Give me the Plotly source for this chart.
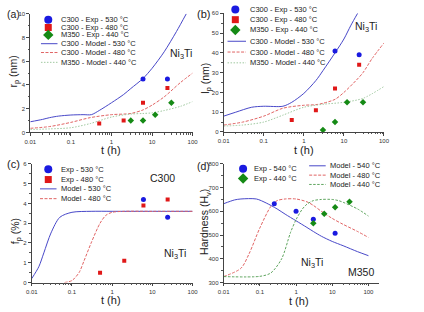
import plotly.graph_objects as go

W, H = 424, 312

# ---------------- data ----------------
# (a) r_p (nm)
a_exp530_t = [6, 24];            a_exp530_v = [4.5, 4.5]
a_exp480_t = [0.5, 2, 6, 24];    a_exp480_v = [0.75, 1.0, 2.5, 3.75]
a_exp440_t = [3, 6, 12, 30];     a_exp440_v = [1.0, 1.0, 1.5, 2.5]
a_mod530_t = [0.01, 0.02, 0.03, 0.05, 0.1, 0.2, 0.32, 0.5, 1, 2, 3, 6, 10, 20, 40, 70]
a_mod530_v = [0.9, 1.1, 1.25, 1.38, 1.47, 1.5, 1.5, 1.85, 2.5, 3.2, 3.7, 4.55, 5.4, 6.8, 8.5, 10.0]
a_mod480_t = [0.01, 0.03, 0.1, 0.3, 1, 3, 6, 10, 20, 50, 100]
a_mod480_v = [0.35, 0.5, 0.85, 1.25, 1.5, 1.6, 1.9, 2.3, 3.0, 4.2, 5.0]
a_mod440_t = [0.01, 0.03, 0.1, 0.3, 1, 3, 6, 10, 20, 50, 100]
a_mod440_v = [0.25, 0.3, 0.4, 0.75, 1.3, 1.55, 1.6, 1.65, 1.85, 2.2, 2.6]

# (b) l_p (nm)
b_exp530_t = [6, 24];            b_exp530_v = [41, 39]
b_exp480_t = [0.5, 2, 6, 24];    b_exp480_v = [6, 11, 22, 34]
b_exp440_t = [3, 6, 12, 30];     b_exp440_v = [1, 5, 15, 15]
b_mod530_t = [0.01, 0.02, 0.05, 0.1, 0.3, 0.5, 1, 2, 3, 6, 10, 15, 22]
b_mod530_v = [8, 10, 12.5, 13, 13, 15, 19.5, 26, 31, 40, 47, 54, 60]
b_mod480_t = [0.01, 0.03, 0.1, 0.3, 1, 2, 3, 6, 10, 20, 30, 50, 100]
b_mod480_v = [3.5, 5, 8, 12, 13.5, 13.8, 14.5, 16.5, 20, 26, 30, 37, 45]
b_mod440_t = [0.01, 0.03, 0.1, 0.3, 1, 3, 10, 30, 100]
b_mod440_v = [3, 3.5, 5, 8.5, 12.5, 14, 15, 17, 23]

# (c) f_p (%)
c_exp530_t = [6, 24];            c_exp530_v = [4.2, 3.3]
c_exp480_t = [0.5, 2, 6, 24];    c_exp480_v = [0.5, 1.1, 3.9, 4.2]
c_mod530_t = [0.01, 0.015, 0.02, 0.03, 0.05, 0.1, 0.3, 1, 10, 100]
c_mod530_v = [0.2, 0.8, 1.5, 2.5, 3.3, 3.55, 3.6, 3.6, 3.6, 3.6]
c_mod480_t = [0.065, 0.1, 0.15, 0.2, 0.3, 0.5, 0.7, 1, 2, 10, 100]
c_mod480_v = [0.0, 0.1, 0.5, 1.1, 2.0, 3.0, 3.4, 3.55, 3.6, 3.6, 3.6]

# (d) Hardness (Hv)
d_exp540_t = [0.25, 1, 3, 12];   d_exp540_v = [632, 600, 567, 508]
d_exp440_t = [3, 6, 12, 30];     d_exp440_v = [550, 590, 617, 640]
d_mod540_t = [0.01, 0.02, 0.03, 0.08, 0.15, 0.3, 0.5, 1, 2, 3, 5, 10, 20, 50, 100]
d_mod540_v = [632, 648, 652, 652, 635, 610, 588, 560, 532, 515, 495, 473, 455, 430, 413]
d_mod480_t = [0.01, 0.03, 0.05, 0.1, 0.2, 0.3, 0.5, 1, 2, 3, 5, 10, 20, 50, 100]
d_mod480_v = [325, 360, 420, 530, 620, 645, 652, 652, 640, 625, 600, 570, 545, 515, 490]
d_mod440_t = [0.01, 0.1, 0.2, 0.4, 0.7, 1, 1.5, 2, 3, 5, 10, 15, 20, 50, 100]
d_mod440_v = [325, 326, 340, 400, 510, 565, 610, 630, 645, 650, 650, 645, 638, 610, 580]

# ---------------- styles ----------------
BLUE_M, RED_M, GREEN_M = "#1a1ae0", "#e01818", "#158a15"
BLUE_L, RED_L, GREEN_L, GREEN_D = "#4848c8", "#e06464", "#a0c8a0", "#5fa55f"
FONT = "Liberation Sans, Arial, sans-serif"

fig = go.Figure()

def px_x(x):
    return x / W

def px_y(y):
    return 1 - y / H

def exp(t, v, color, symbol, size, ax):
    fig.add_trace(go.Scatter(x=t, y=v, mode="markers", xaxis=ax[0], yaxis=ax[1],
                             marker=dict(color=color, symbol=symbol, size=size, line=dict(width=0)),
                             showlegend=False, hoverinfo="skip"))

def model(t, v, color, dash, ax, width=1):
    fig.add_trace(go.Scatter(x=t, y=v, mode="lines", xaxis=ax[0], yaxis=ax[1],
                             line=dict(color=color, dash=dash, width=width, shape="spline", smoothing=0.8),
                             showlegend=False, hoverinfo="skip"))

DASH_R = "3px,1.5px"
DOT_G = "1.5px,1.5px"
DASH_G = "2.5px,1.5px"

A = ("x", "y"); B = ("x2", "y2"); C = ("x3", "y3"); D = ("x4", "y4")

model(a_mod530_t, a_mod530_v, BLUE_L, "solid", A)
model(a_mod480_t, a_mod480_v, RED_L, DASH_R, A)
model(a_mod440_t, a_mod440_v, GREEN_L, DOT_G, A)
exp(a_exp530_t, a_exp530_v, BLUE_M, "circle", 5, A)
exp(a_exp480_t, a_exp480_v, RED_M, "square", 4, A)
exp(a_exp440_t, a_exp440_v, GREEN_M, "diamond", 5, A)

model(b_mod530_t, b_mod530_v, BLUE_L, "solid", B)
model(b_mod480_t, b_mod480_v, RED_L, DASH_R, B)
model(b_mod440_t, b_mod440_v, GREEN_L, DOT_G, B)
exp(b_exp530_t, b_exp530_v, BLUE_M, "circle", 5, B)
exp(b_exp480_t, b_exp480_v, RED_M, "square", 4, B)
exp(b_exp440_t, b_exp440_v, GREEN_M, "diamond", 5, B)

model(c_mod530_t, c_mod530_v, BLUE_L, "solid", C)
model(c_mod480_t, c_mod480_v, RED_L, DASH_R, C)
exp(c_exp530_t, c_exp530_v, BLUE_M, "circle", 5, C)
exp(c_exp480_t, c_exp480_v, RED_M, "square", 4, C)

model(d_mod540_t, d_mod540_v, BLUE_L, "solid", D)
model(d_mod480_t, d_mod480_v, RED_L, DASH_R, D)
model(d_mod440_t, d_mod440_v, GREEN_D, DASH_G, D)
exp(d_exp540_t, d_exp540_v, BLUE_M, "circle", 5, D)
exp(d_exp440_t, d_exp440_v, GREEN_M, "diamond", 5, D)

# ---------------- axes ----------------
minor_log = [m * 10 ** e for e in range(-2, 3) for m in range(2, 10)]
xt_vals = [0.01, 0.1, 1, 10, 100]
xt_text = ["0.01", "0.1", "1", "10", "100"]

def xaxis(dom, rng, anchor):
    return dict(domain=dom, type="log", range=rng, anchor=anchor,
                tickvals=xt_vals, ticktext=xt_text, ticks="outside", ticklen=3,
                tickwidth=0.8, tickcolor="#444", showline=True, linecolor="#444", linewidth=0.8,
                showgrid=False, zeroline=False, tickfont=dict(size=6, color="#333", family=FONT),
                minor=dict(tickvals=minor_log, ticks="outside", ticklen=1.5, tickwidth=0.6, tickcolor="#555"))

def yaxis(dom, rng, dtick, anchor):
    return dict(domain=dom, range=rng, anchor=anchor, dtick=dtick, tick0=rng[0],
                ticks="outside", ticklen=3, tickwidth=0.8, tickcolor="#444",
                showline=True, linecolor="#444", linewidth=0.8, showgrid=False, zeroline=False,
                tickfont=dict(size=6, color="#333", family=FONT),
                minor=dict(dtick=dtick / 2, ticks="outside", ticklen=1.5, tickwidth=0.6, tickcolor="#555"))

fig.update_layout(
    xaxis=xaxis([25 / W, 192 / W], [-2, 2], "y"),
    yaxis=yaxis([1 - 132 / H, 1 - 11 / H], [0, 10], 2, "x"),
    xaxis2=xaxis([224 / W, 389 / W], [-2, 2], "y2"),
    yaxis2=yaxis([1 - 131.5 / H, 1 - 10.5 / H], [0, 60], 10, "x2"),
    xaxis3=xaxis([26.5 / W, 192 / W], [-2, 2], "y3"),
    yaxis3=yaxis([1 - 285 / H, 1 - 164 / H], [0, 6], 1, "x3"),
    xaxis4=xaxis([224 / W, 384 / W], [-2, 2.295], "y4"),
    yaxis4=yaxis([1 - 285 / H, 1 - 164 / H], [300, 800], 100, "x4"),
    xaxis5=dict(domain=[0, 1], range=[0, W], visible=False, anchor="y5"),
    yaxis5=dict(domain=[0, 1], range=[H, 0], visible=False, anchor="x5"),
)

# ---------------- legends (drawn manually) ----------------
ann = []

def leg_marker(x, y, color, symbol, size):
    fig.add_trace(go.Scatter(x=[x], y=[y], mode="markers", xaxis="x5", yaxis="y5",
                             marker=dict(color=color, symbol=symbol, size=size, line=dict(width=0)),
                             showlegend=False, hoverinfo="skip"))

def leg_line(x0, x1, y, color, dash):
    fig.add_trace(go.Scatter(x=[x0, x1], y=[y, y], mode="lines", xaxis="x5", yaxis="y5",
                             line=dict(color=color, dash=dash, width=1),
                             showlegend=False, hoverinfo="skip"))

def text(x, y, s, size=7.5, xanchor="left", color="#222", **kw):
    ann.append(dict(x=px_x(x), y=px_y(y), xref="paper", yref="paper", text=s, showarrow=False,
                    xanchor=xanchor, yanchor="middle", font=dict(size=size, color=color, family=FONT), **kw))

# legend (a)
leg_a = [("C300 - Exp - 530 °C", "m", BLUE_M, "circle", 8, 17),
         ("C300 - Exp - 480 °C", "m", RED_M, "square", 7, 25),
         ("M350 - Exp - 440 °C", "m", GREEN_M, "diamond", 8, 32.5),
         ("C300 - Model - 530 °C", "l", BLUE_L, "solid", 0, 41.5),
         ("C300 - Model - 480 °C", "l", RED_L, DASH_R, 0, 50.5),
         ("M350 - Model - 440 °C", "l", GREEN_L, DOT_G, 0, 60.5)]
for lab, kind, col, sty, sz, yy in leg_a:
    if kind == "m":
        leg_marker(43.5, yy, col, sty, sz)
    else:
        leg_line(36, 53, yy, col, sty)
    text(55, yy, lab)

leg_b = [("C300 - Exp - 530 °C", "m", BLUE_M, "circle", 8, 6.5),
         ("C300 - Exp - 480 °C", "m", RED_M, "square", 7, 17),
         ("M350 - Exp - 440 °C", "m", GREEN_M, "diamond", 8, 27.5),
         ("C300 - Model - 530 °C", "l", BLUE_L, "solid", 0, 39),
         ("C300 - Model - 480 °C", "l", RED_L, DASH_R, 0, 50),
         ("M350 - Model - 440 °C", "l", GREEN_L, DOT_G, 0, 61)]
for lab, kind, col, sty, sz, yy in leg_b:
    if kind == "m":
        leg_marker(236, yy, col, sty, sz)
    else:
        leg_line(228, 247, yy, col, sty)
    text(249, yy, lab)

leg_c = [("Exp - 530 °C", "m", BLUE_M, "circle", 8, 169.5),
         ("Exp - 480 °C", "m", RED_M, "square", 7, 180),
         ("Model - 530 °C", "l", BLUE_L, "solid", 0, 189.5),
         ("Model - 480 °C", "l", RED_L, DASH_R, 0, 199.5)]
for lab, kind, col, sty, sz, yy in leg_c:
    if kind == "m":
        leg_marker(43.5, yy, col, sty, sz)
    else:
        leg_line(35, 52, yy, col, sty)
    text(55, yy, lab)

leg_d1 = [("Exp - 540 °C", BLUE_M, "circle", 8, 169),
          ("Exp - 440 °C", GREEN_M, "diamond", 8, 179)]
for lab, col, sty, sz, yy in leg_d1:
    leg_marker(244, yy, col, sty, sz)
    text(253, yy, lab)

leg_d2 = [("Model - 540 °C", BLUE_L, "solid", 166),
          ("Model - 480 °C", RED_L, DASH_R, 175.5),
          ("Model - 440 °C", GREEN_D, DASH_G, 185)]
for lab, col, sty, yy in leg_d2:
    leg_line(312, 329, yy, col, sty)
    text(331, yy, lab)

# panel labels
text(-1, 11, "(a)", size=10.5)
text(194, 11, "(b)", size=11)
text(-1, 164, "(c)", size=11)
text(195, 166, "(d)", size=10.5)

# axis titles
text(108, 150, "t (h)", size=11, xanchor="center")
text(307, 150, "t (h)", size=11, xanchor="center")
text(108, 303, "t (h)", size=11, xanchor="center")
text(302, 304, "t (h)", size=11, xanchor="center")
text(8, 70, "r<sub>p</sub> (nm)", size=10.5, xanchor="center", textangle=-90)
text(205, 77, "l<sub>p</sub> (nm)", size=10.5, xanchor="center", textangle=-90)
text(10, 233, "f<sub>p</sub> (%)", size=10.5, xanchor="center", textangle=-90)
text(205, 223, "Hardness (H<sub>v</sub>)", size=10.5, xanchor="center", textangle=-90)

# in-plot labels
text(180, 52, "Ni<sub>3</sub>Ti", size=10.5, xanchor="center")
text(370, 24, "Ni<sub>3</sub>Ti", size=10.5, xanchor="center")
text(161, 178, "C300", size=10.5, xanchor="center")
text(174, 256, "Ni<sub>3</sub>Ti", size=10.5, xanchor="center")
text(315, 265, "Ni<sub>3</sub>Ti", size=10.5, xanchor="center")
text(365, 274, "M350", size=10.5, xanchor="center")

fig.update_layout(width=W, height=H, margin=dict(l=0, r=0, t=0, b=0),
                  paper_bgcolor="white", plot_bgcolor="rgba(0,0,0,0)",
                  showlegend=False, annotations=ann, font=dict(family=FONT))

fig.write_html("out.html")
